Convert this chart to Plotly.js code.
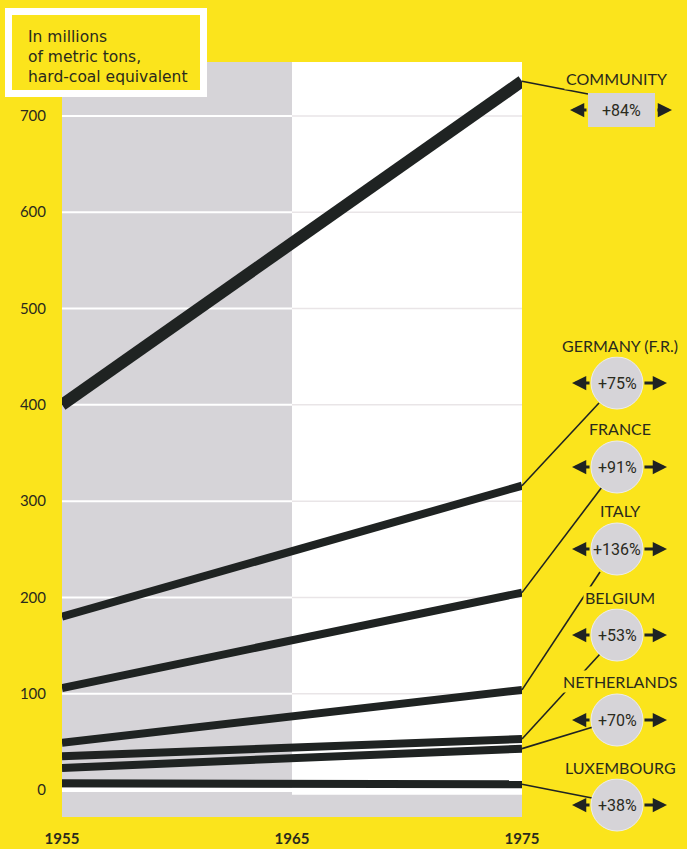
<!DOCTYPE html>
<html>
<head>
<meta charset="utf-8">
<script src="https://cdn.plot.ly/plotly-3.0.1.min.js"></script>
<style>html,body{margin:0;padding:0;background:#fbe41c;}</style>
</head>
<body>
<div id="chart" style="width:687px;height:849px;"></div>
<script>
// ---- data ----
const years = [1955, 1975];
const countries = ["COMMUNITY", "GERMANY (F.R.)", "FRANCE", "ITALY", "BELGIUM", "NETHERLANDS", "LUXEMBOURG"];
const community = [400, 736];
const germany = [180, 316];
const france = [106, 205];
const italy = [49, 104];
const belgium = [35, 53];
const netherlands = [23, 43];
const luxembourg = [7, 6];
const changes = ["+84%", "+75%", "+91%", "+136%", "+53%", "+70%", "+38%"];
const yTicks = [0, 100, 200, 300, 400, 500, 600, 700];
const xTicks = [1955, 1965, 1975];

const series = [community, germany, france, italy, belgium, netherlands, luxembourg];

// ---- layout helpers ----
const W = 687, H = 849;
const M = {l: 62, r: 165, t: 62, b: 32};
const PW = W - M.l - M.r, PH = H - M.t - M.b;
const yRange = [-28, 756];
const px = x => (x - M.l) / PW;
const py = y => 1 - (y - M.t) / PH;
const yPaper = v => (v - yRange[0]) / (yRange[1] - yRange[0]);

const YELLOW = '#fbe41c';
const GRAY = '#d6d4d8';
const DARK = '#1f2322';
const TXT = '#2a2a1c';

const traces = series.map((s, i) => ({
  x: years, y: s, type: 'scatter', mode: 'lines',
  line: {color: DARK, width: i === 0 ? 12 : 8},
  hoverinfo: 'skip', showlegend: false
}));

const shapes = [];
// white panel 1965-1975
shapes.push({type: 'rect', xref: 'x', yref: 'y', x0: 1965, x1: 1975, y0: -5, y1: yRange[1],
  fillcolor: '#ffffff', line: {width: 0}, layer: 'below'});
// gridlines
yTicks.forEach(v => {
  shapes.push({type: 'line', xref: 'x', yref: 'y', x0: 1955, x1: 1965, y0: v, y1: v,
    line: {color: '#ffffff', width: v === 0 ? 4 : 2}, layer: 'below'});
  if (v > 0) shapes.push({type: 'line', xref: 'x', yref: 'y', x0: 1965, x1: 1975, y0: v, y1: v,
    line: {color: '#e9e5e7', width: 1.5}, layer: 'below'});
});

// title box
shapes.push({type: 'rect', xref: 'paper', yref: 'paper', x0: px(5), x1: px(207), y0: py(97), y1: py(8),
  fillcolor: '#ffffff', line: {width: 0}, layer: 'above'});
shapes.push({type: 'rect', xref: 'paper', yref: 'paper', x0: px(12), x1: px(200), y0: py(90), y1: py(15),
  fillcolor: YELLOW, line: {width: 0}, layer: 'above'});

// right-side callouts
const labelY = [78, 345, 428, 510, 597, 681, 767];
const badgeY = [110, 383, 467, 549, 635, 720, 805];
const targets = [[588, 94], [599, 403], [602, 487], [600, 572], [600, 654], [593, 727], [592, 798]];
const CX = 617, R = 26;

const annotations = [];
series.forEach((s, i) => {
  // connector from line end
  shapes.push({type: 'line', xref: 'paper', yref: 'paper', x0: 1, y0: yPaper(s[1]),
    x1: px(targets[i][0]), y1: py(targets[i][1]), line: {color: DARK, width: 1.6}, layer: 'above'});
  const cy = badgeY[i];
  let left, right;
  if (i === 0) {
    shapes.push({type: 'rect', xref: 'paper', yref: 'paper', x0: px(588), x1: px(655), y0: py(127), y1: py(93),
      fillcolor: GRAY, line: {width: 0}, layer: 'above'});
    left = [570, 588]; right = [656, 672];
  } else {
    shapes.push({type: 'circle', xref: 'paper', yref: 'paper', x0: px(CX - R), x1: px(CX + R), y0: py(cy + R), y1: py(cy - R),
      fillcolor: GRAY, line: {color: '#ececee', width: 1}, layer: 'above'});
    left = [572, CX - R]; right = [CX + R, 667];
  }
  annotations.push({xref: 'paper', yref: 'paper', x: px(left[0]), y: py(cy), text: '', showarrow: true,
    ax: left[1] - left[0], ay: 0, arrowhead: 2, arrowsize: 0.95, arrowwidth: 3, arrowcolor: DARK, standoff: 0});
  annotations.push({xref: 'paper', yref: 'paper', x: px(right[1]), y: py(cy), text: '', showarrow: true,
    ax: right[0] - right[1], ay: 0, arrowhead: 2, arrowsize: 0.95, arrowwidth: 3, arrowcolor: DARK, standoff: 0});
  annotations.push({xref: 'paper', yref: 'paper', x: px(i === 0 ? 621 : CX), y: py(cy), text: changes[i], showarrow: false,
    font: {family: 'Roboto, sans-serif', size: 16, color: TXT}, xanchor: 'center', yanchor: 'middle'});
  annotations.push({xref: 'paper', yref: 'paper', x: px(i === 0 ? 616 : 620), y: py(labelY[i]), text: countries[i], showarrow: false,
    font: {family: 'Lato, sans-serif', size: 16, color: TXT}, xanchor: 'center', yanchor: 'middle',
    bgcolor: YELLOW, borderpad: 1});
});

annotations.push({xref: 'paper', yref: 'paper', x: px(26), y: py(26), xanchor: 'left', yanchor: 'top', align: 'left',
  text: 'In millions<br>of metric tons,<br>hard-coal equivalent', showarrow: false,
  font: {family: '"DejaVu Sans", sans-serif', size: 15.5, color: TXT}});

const layout = {
  width: W, height: H,
  margin: M,
  paper_bgcolor: YELLOW,
  plot_bgcolor: GRAY,
  showlegend: false,
  xaxis: {range: [1955, 1975], tickvals: xTicks, ticktext: xTicks.map(String), showgrid: false, zeroline: false,
    showline: false, ticks: 'outside', ticklen: 8, tickcolor: 'rgba(0,0,0,0)',
    tickfont: {family: 'Lato, sans-serif', size: 15, color: TXT, weight: 'bold'}, fixedrange: true},
  yaxis: {range: yRange, tickvals: yTicks, showgrid: false, zeroline: false, showline: false,
    ticks: 'outside', ticklen: 12, tickcolor: 'rgba(0,0,0,0)',
    tickfont: {family: 'Lato, sans-serif', size: 15, color: TXT}, fixedrange: true},
  shapes: shapes,
  annotations: annotations
};

Plotly.newPlot('chart', traces, layout, {displayModeBar: false, staticPlot: true});
</script>
</body>
</html>
